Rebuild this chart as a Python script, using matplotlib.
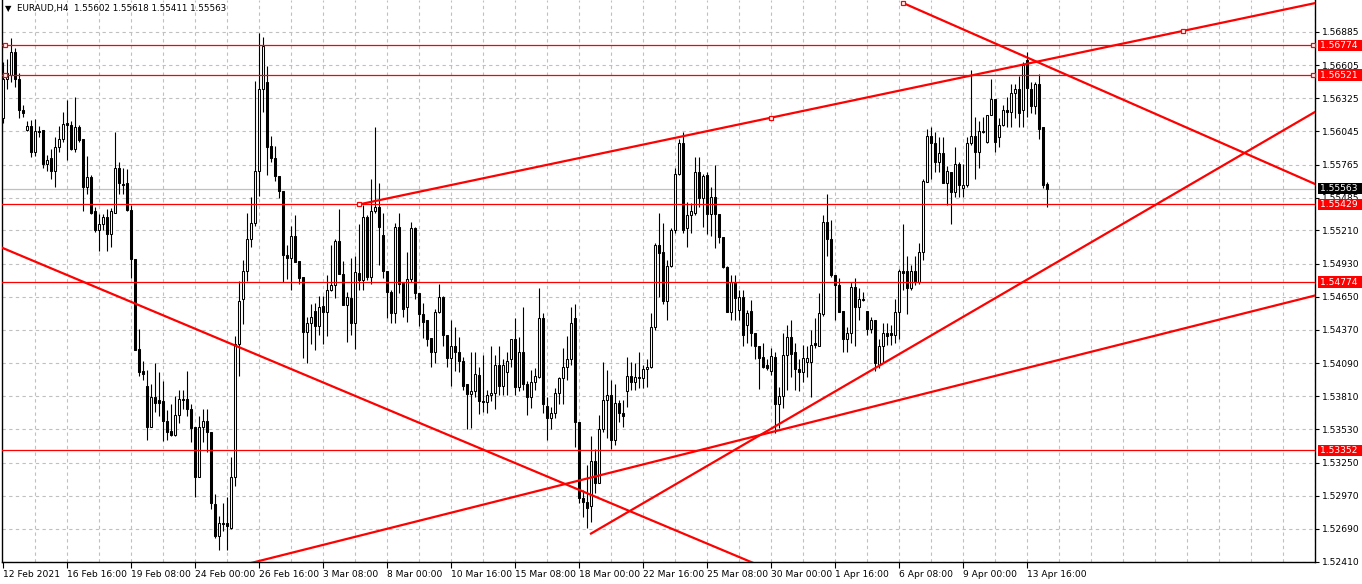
import numpy as np
import matplotlib.pyplot as plt
from matplotlib import transforms

# EURAUD H4 candles, 12 Feb 2021 00:00 -> 14 Apr 2021 12:00
opens = [1.5616, 1.5649, 1.5652, 1.5672, 1.5649, 1.5623, 1.5606, 1.5609, 1.5587, 1.5605,
         1.5606, 1.5577, 1.5582, 1.5571, 1.5591, 1.5598, 1.5612, 1.5610, 1.5590, 1.5608,
         1.5598, 1.5558, 1.5566, 1.5537, 1.5521, 1.5526, 1.5532, 1.5518, 1.5536, 1.5574,
         1.5560, 1.5561, 1.5538, 1.5497, 1.5421, 1.5402, 1.5390, 1.5355, 1.5380, 1.5378,
         1.5377, 1.5360, 1.5352, 1.5348, 1.5365, 1.5379, 1.5379, 1.5370, 1.5355, 1.5313,
         1.5355, 1.5360, 1.5351, 1.5290, 1.5263, 1.5274, 1.5274, 1.5270, 1.5313, 1.5425,
         1.5463, 1.5487, 1.5514, 1.5527, 1.5571, 1.5640, 1.5646, 1.5592, 1.5582, 1.5567,
         1.5554, 1.5500, 1.5498, 1.5516, 1.5495, 1.5482, 1.5435, 1.5443, 1.5453, 1.5440,
         1.5457, 1.5452, 1.5471, 1.5475, 1.5512, 1.5484, 1.5458, 1.5464, 1.5443, 1.5485,
         1.5479, 1.5532, 1.5482, 1.5537, 1.5541, 1.5517, 1.5487, 1.5469, 1.5451, 1.5524,
         1.5477, 1.5456, 1.5480, 1.5523, 1.5468, 1.5450, 1.5445, 1.5430, 1.5418, 1.5452,
         1.5465, 1.5433, 1.5413, 1.5423, 1.5418, 1.5411, 1.5391, 1.5383, 1.5385, 1.5399,
         1.5377, 1.5376, 1.5382, 1.5384, 1.5407, 1.5390, 1.5401, 1.5412, 1.5429, 1.5389,
         1.5418, 1.5391, 1.5380, 1.5393, 1.5397, 1.5447, 1.5373, 1.5363, 1.5367, 1.5384,
         1.5396, 1.5406, 1.5412, 1.5447, 1.5359, 1.5295, 1.5292, 1.5288, 1.5326, 1.5308,
         1.5353, 1.5378, 1.5382, 1.5344, 1.5375, 1.5367, 1.5385, 1.5398, 1.5393, 1.5397,
         1.5396, 1.5404, 1.5406, 1.5439, 1.5509, 1.5503, 1.5461, 1.5491, 1.5521, 1.5569,
         1.5595, 1.5523, 1.5534, 1.5536, 1.5570, 1.5548, 1.5568, 1.5535, 1.5549, 1.5535,
         1.5515, 1.5490, 1.5452, 1.5477, 1.5454, 1.5465, 1.5441, 1.5453, 1.5434, 1.5423,
         1.5414, 1.5407, 1.5402, 1.5414, 1.5374, 1.5381, 1.5416, 1.5431, 1.5418, 1.5404,
         1.5401, 1.5410, 1.5410, 1.5426, 1.5423, 1.5450, 1.5528, 1.5514, 1.5483, 1.5475,
         1.5453, 1.5429, 1.5434, 1.5473, 1.5456, 1.5463, 1.5453, 1.5438, 1.5445, 1.5407,
         1.5423, 1.5434, 1.5434, 1.5433, 1.5452, 1.5487, 1.5487, 1.5472, 1.5487, 1.5477,
         1.5503, 1.5562, 1.5601, 1.5595, 1.5579, 1.5586, 1.5561, 1.5570, 1.5553, 1.5577,
         1.5557, 1.5559, 1.5595, 1.5601, 1.5587, 1.5604, 1.5596, 1.5618, 1.5632, 1.5600,
         1.5610, 1.5623, 1.5621, 1.5637, 1.5640, 1.5623, 1.5665, 1.5640, 1.5626, 1.5645,
         1.5608, 1.55602]
highs = [1.5663, 1.5666, 1.5683, 1.5675, 1.5654, 1.5627, 1.5613, 1.5614, 1.5615, 1.5609,
         1.5606, 1.5585, 1.5590, 1.5600, 1.5609, 1.5621, 1.5631, 1.5613, 1.5634, 1.5610,
         1.5598, 1.5584, 1.5568, 1.5541, 1.5535, 1.5535, 1.5539, 1.5540, 1.5604, 1.5579,
         1.5574, 1.5573, 1.5542, 1.5497, 1.5438, 1.5411, 1.5403, 1.5391, 1.5409, 1.5401,
         1.5394, 1.5369, 1.5374, 1.5381, 1.5386, 1.5386, 1.5402, 1.5374, 1.5355, 1.5364,
         1.5370, 1.5370, 1.5351, 1.5298, 1.5280, 1.5291, 1.5296, 1.5330, 1.5432, 1.5478,
         1.5496, 1.5536, 1.5549, 1.5647, 1.5688, 1.5684, 1.5660, 1.5601, 1.5592, 1.5567,
         1.5554, 1.5509, 1.5525, 1.5534, 1.5495, 1.5482, 1.5448, 1.5459, 1.5460, 1.5466,
         1.5466, 1.5483, 1.5509, 1.5514, 1.5539, 1.5495, 1.5469, 1.5498, 1.5499, 1.5526,
         1.5542, 1.5534, 1.5564, 1.5608, 1.5561, 1.5536, 1.5487, 1.5471, 1.5527, 1.5536,
         1.5477, 1.5503, 1.5528, 1.5524, 1.5468, 1.5460, 1.5445, 1.5430, 1.5455, 1.5476,
         1.5466, 1.5433, 1.5445, 1.5439, 1.5431, 1.5414, 1.5391, 1.5418, 1.5418, 1.5406,
         1.5416, 1.5386, 1.5423, 1.5416, 1.5423, 1.5412, 1.5418, 1.5429, 1.5447, 1.5431,
         1.5456, 1.5394, 1.5403, 1.5405, 1.5472, 1.5451, 1.5380, 1.5372, 1.5388, 1.5397,
         1.5422, 1.5432, 1.5456, 1.5459, 1.5359, 1.5302, 1.5323, 1.5347, 1.5336, 1.5365,
         1.5410, 1.5403, 1.5395, 1.5391, 1.5378, 1.5378, 1.5414, 1.5410, 1.5409, 1.5418,
         1.5407, 1.5412, 1.5451, 1.5510, 1.5536, 1.5527, 1.5496, 1.5523, 1.5574, 1.5598,
         1.5604, 1.5545, 1.5544, 1.5583, 1.5583, 1.5569, 1.5570, 1.5558, 1.5576, 1.5535,
         1.5515, 1.5491, 1.5483, 1.5483, 1.5471, 1.5471, 1.5454, 1.5462, 1.5434, 1.5423,
         1.5426, 1.5412, 1.5422, 1.5418, 1.5389, 1.5434, 1.5441, 1.5445, 1.5426, 1.5412,
         1.5424, 1.5423, 1.5437, 1.5447, 1.5468, 1.5534, 1.5552, 1.5530, 1.5483, 1.5481,
         1.5453, 1.5439, 1.5477, 1.5481, 1.5472, 1.5469, 1.5453, 1.5448, 1.5445, 1.5429,
         1.5443, 1.5443, 1.5441, 1.5463, 1.5488, 1.5526, 1.5499, 1.5492, 1.5499, 1.5510,
         1.5564, 1.5607, 1.5608, 1.5604, 1.5600, 1.5600, 1.5575, 1.5570, 1.5591, 1.5579,
         1.5577, 1.5600, 1.5656, 1.5617, 1.5613, 1.5617, 1.5618, 1.5649, 1.5632, 1.5616,
         1.5627, 1.5634, 1.5645, 1.5645, 1.5651, 1.5663, 1.5672, 1.5646, 1.5646, 1.5653,
         1.5608, 1.55618]
lows = [1.5612, 1.5640, 1.5646, 1.5642, 1.5616, 1.5617, 1.5605, 1.5583, 1.5584, 1.5600,
        1.5574, 1.5571, 1.5564, 1.5558, 1.5587, 1.5596, 1.5580, 1.5589, 1.5587, 1.5596,
        1.5537, 1.5552, 1.5535, 1.5520, 1.5504, 1.5521, 1.5504, 1.5507, 1.5536, 1.5552,
        1.5552, 1.5537, 1.5481, 1.5420, 1.5398, 1.5395, 1.5344, 1.5355, 1.5368, 1.5364,
        1.5343, 1.5344, 1.5347, 1.5347, 1.5358, 1.5370, 1.5364, 1.5342, 1.5296, 1.5313,
        1.5342, 1.5334, 1.5286, 1.5261, 1.5251, 1.5267, 1.5251, 1.5269, 1.5305, 1.5398,
        1.5442, 1.5478, 1.5507, 1.5525, 1.5550, 1.5621, 1.5568, 1.5579, 1.5563, 1.5548,
        1.5477, 1.5480, 1.5471, 1.5494, 1.5476, 1.5413, 1.5409, 1.5425, 1.5420, 1.5433,
        1.5425, 1.5432, 1.5470, 1.5464, 1.5484, 1.5458, 1.5427, 1.5433, 1.5421, 1.5471,
        1.5471, 1.5479, 1.5476, 1.5536, 1.5492, 1.5481, 1.5447, 1.5443, 1.5443, 1.5468,
        1.5448, 1.5444, 1.5477, 1.5463, 1.5440, 1.5430, 1.5423, 1.5406, 1.5409, 1.5451,
        1.5423, 1.5406, 1.5390, 1.5402, 1.5401, 1.5386, 1.5353, 1.5354, 1.5380, 1.5366,
        1.5368, 1.5367, 1.5377, 1.5370, 1.5382, 1.5382, 1.5382, 1.5406, 1.5382, 1.5385,
        1.5386, 1.5365, 1.5371, 1.5386, 1.5396, 1.5367, 1.5344, 1.5353, 1.5363, 1.5374,
        1.5374, 1.5395, 1.5407, 1.5338, 1.5291, 1.5279, 1.5270, 1.5275, 1.5299, 1.5308,
        1.5351, 1.5346, 1.5336, 1.5340, 1.5359, 1.5355, 1.5372, 1.5386, 1.5386, 1.5388,
        1.5388, 1.5389, 1.5405, 1.5437, 1.5465, 1.5459, 1.5445, 1.5490, 1.5519, 1.5568,
        1.5519, 1.5507, 1.5519, 1.5534, 1.5541, 1.5524, 1.5518, 1.5516, 1.5506, 1.5510,
        1.5489, 1.5452, 1.5445, 1.5445, 1.5445, 1.5423, 1.5426, 1.5423, 1.5412, 1.5387,
        1.5405, 1.5403, 1.5399, 1.5350, 1.5354, 1.5371, 1.5386, 1.5397, 1.5386, 1.5385,
        1.5393, 1.5397, 1.5380, 1.5422, 1.5423, 1.5449, 1.5499, 1.5482, 1.5445, 1.5452,
        1.5418, 1.5418, 1.5426, 1.5423, 1.5445, 1.5461, 1.5433, 1.5434, 1.5402, 1.5405,
        1.5409, 1.5424, 1.5424, 1.5426, 1.5429, 1.5471, 1.5450, 1.5471, 1.5475, 1.5476,
        1.5496, 1.5562, 1.5564, 1.5570, 1.5570, 1.5561, 1.5542, 1.5526, 1.5549, 1.5549,
        1.5549, 1.5558, 1.5593, 1.5564, 1.5574, 1.5603, 1.5595, 1.5618, 1.5587, 1.5591,
        1.5609, 1.5608, 1.5608, 1.5616, 1.5608, 1.5608, 1.5617, 1.5620, 1.5619, 1.5598,
        1.5557, 1.55411]
closes = [1.5649, 1.5654, 1.5672, 1.5649, 1.5623, 1.5620, 1.5609, 1.5587, 1.5605, 1.5604,
          1.5577, 1.5580, 1.5571, 1.5591, 1.5598, 1.5611, 1.5610, 1.5590, 1.5608, 1.5597,
          1.5558, 1.5566, 1.5536, 1.5521, 1.5526, 1.5532, 1.5518, 1.5537, 1.5574, 1.5561,
          1.5559, 1.5538, 1.5497, 1.5420, 1.5401, 1.5400, 1.5355, 1.5380, 1.5375, 1.5375,
          1.5360, 1.5351, 1.5348, 1.5365, 1.5379, 1.5378, 1.5370, 1.5354, 1.5313, 1.5355,
          1.5360, 1.5351, 1.5291, 1.5263, 1.5274, 1.5273, 1.5271, 1.5313, 1.5425, 1.5461,
          1.5487, 1.5514, 1.5527, 1.5571, 1.5640, 1.5677, 1.5591, 1.5582, 1.5567, 1.5554,
          1.5500, 1.5498, 1.5516, 1.5494, 1.5481, 1.5435, 1.5443, 1.5448, 1.5440, 1.5456,
          1.5452, 1.5471, 1.5475, 1.5512, 1.5484, 1.5458, 1.5465, 1.5443, 1.5486, 1.5479,
          1.5532, 1.5482, 1.5537, 1.5541, 1.5524, 1.5487, 1.5469, 1.5451, 1.5524, 1.5476,
          1.5455, 1.5480, 1.5523, 1.5468, 1.5450, 1.5444, 1.5429, 1.5418, 1.5452, 1.5465,
          1.5433, 1.5413, 1.5423, 1.5418, 1.5411, 1.5390, 1.5383, 1.5385, 1.5400, 1.5377,
          1.5376, 1.5382, 1.5384, 1.5407, 1.5390, 1.5407, 1.5411, 1.5429, 1.5389, 1.5418,
          1.5391, 1.5380, 1.5393, 1.5398, 1.5447, 1.5374, 1.5363, 1.5367, 1.5384, 1.5396,
          1.5406, 1.5412, 1.5443, 1.5359, 1.5295, 1.5292, 1.5287, 1.5326, 1.5308, 1.5353,
          1.5378, 1.5382, 1.5344, 1.5375, 1.5367, 1.5364, 1.5398, 1.5393, 1.5397, 1.5396,
          1.5404, 1.5406, 1.5439, 1.5509, 1.5502, 1.5461, 1.5491, 1.5521, 1.5569, 1.5595,
          1.5521, 1.5534, 1.5537, 1.5570, 1.5548, 1.5567, 1.5535, 1.5549, 1.5535, 1.5515,
          1.5490, 1.5452, 1.5477, 1.5464, 1.5465, 1.5433, 1.5451, 1.5434, 1.5423, 1.5413,
          1.5406, 1.5405, 1.5415, 1.5374, 1.5381, 1.5416, 1.5431, 1.5417, 1.5404, 1.5401,
          1.5413, 1.5413, 1.5424, 1.5424, 1.5451, 1.5528, 1.5514, 1.5483, 1.5475, 1.5452,
          1.5429, 1.5434, 1.5473, 1.5456, 1.5463, 1.5462, 1.5438, 1.5445, 1.5409, 1.5423,
          1.5434, 1.5432, 1.5433, 1.5452, 1.5487, 1.5485, 1.5472, 1.5487, 1.5477, 1.5503,
          1.5563, 1.5601, 1.5595, 1.5579, 1.5586, 1.5561, 1.5571, 1.5553, 1.5577, 1.5559,
          1.5559, 1.5595, 1.5601, 1.5587, 1.5605, 1.5605, 1.5618, 1.5632, 1.5596, 1.5610,
          1.5623, 1.5621, 1.5637, 1.5640, 1.5620, 1.5661, 1.5641, 1.5626, 1.5645, 1.5607,
          1.5559, 1.55563]

date_labels = ["12 Feb 2021", "16 Feb 16:00", "19 Feb 08:00", "24 Feb 00:00", "26 Feb 16:00",
               "3 Mar 08:00", "8 Mar 00:00", "10 Mar 16:00", "15 Mar 08:00", "18 Mar 00:00",
               "22 Mar 16:00", "25 Mar 08:00", "30 Mar 00:00", "1 Apr 16:00", "6 Apr 08:00",
               "9 Apr 00:00", "13 Apr 16:00"]
price_ticks = [1.52410, 1.52690, 1.52970, 1.53250, 1.53530, 1.53810, 1.54090, 1.54370,
               1.54650, 1.54930, 1.55210, 1.55485, 1.55765, 1.56045, 1.56325, 1.56605, 1.56885]

# horizontal levels, the first two are selected (end squares)
levels = [1.56774, 1.56521, 1.55429, 1.54774, 1.53352]
bid = 1.55563

# trend lines: anchor bars / anchor prices, ray = only to the right of first anchor
trend_x = [[89, 295], [225, 256], [0, 187], [63, 328], [147, 328]]
trend_y = [[1.55429, 1.56894], [1.5713, 1.5667], [1.5506, 1.5241], [1.5241, 1.5466], [1.5265, 1.5621]]
trend_ray = [True, True, False, False, True]

W, H = 1362, 584
fs = 6.6
RED = '#ff0000'

fig = plt.figure(figsize=(W / 100, H / 100), dpi=100)
ax = fig.add_axes([2 / W, 22 / H, 1313 / W, 562 / H])
ax.set_xlim(-0.25, 328)
ax.set_ylim(1.52410, 1.57155)

# grid
ax.set_yticks(price_ticks)
ax.set_yticklabels([f'{v:.5f}' for v in price_ticks])
ax.yaxis.tick_right()
ax.set_xticks(np.arange(0, 16 * len(date_labels), 16))
ax.set_xticklabels(date_labels, ha='left')
shift = transforms.ScaledTranslation(2 / 100, 0, fig.dpi_scale_trans)
for lab in ax.get_xticklabels():
    lab.set_transform(lab.get_transform() + shift)
ax.xaxis.remove_overlapping_locs = False
ax.set_xticks(np.arange(8, 329, 8), minor=True)
ax.grid(axis='y', which='major', color='#c0c0c0', ls=(0, (3, 3)), lw=0.8, zorder=0)
ax.grid(axis='x', which='minor', color='#c0c0c0', ls=(0, (3, 3)), lw=0.8, zorder=0)
ax.tick_params(axis='x', which='minor', length=0)
ax.tick_params(axis='x', which='major', length=4, pad=2, labelsize=fs, width=0.8)
ax.tick_params(axis='y', length=3, pad=2, labelsize=fs, width=0.8)
ax.set_axisbelow(True)
ax.spines['top'].set_visible(False)
for s in ['left', 'right', 'bottom']:
    ax.spines[s].set_linewidth(1.0)

# bid line + levels
ax.axhline(bid, color='#c0c0c0', lw=0.9, zorder=1)
for v in levels:
    ax.axhline(v, color=RED, lw=0.9, zorder=5)
for v in levels[:2]:
    ax.plot([0.6, 327.4], [v, v], 's', ms=3.5, mfc='white', mec=RED, mew=0.9, zorder=6, clip_on=False)

# candles
x = np.arange(len(closes))
o = np.array(opens)
c = np.array(closes)
ax.vlines(x, lows, highs, color='black', lw=0.8, zorder=3)
up = c >= o
body = np.maximum(np.abs(c - o), 0.00002)
bot = np.minimum(o, c)
ax.bar(x[up], body[up], bottom=bot[up], width=0.5, color='white', edgecolor='black', lw=0.75, zorder=4)
ax.bar(x[~up], body[~up], bottom=bot[~up], width=0.5, color='black', edgecolor='black', lw=0.75, zorder=4)

# trend lines
for tx, ty, ray in zip(trend_x, trend_y, trend_ray):
    k = (ty[1] - ty[0]) / (tx[1] - tx[0])
    x0 = tx[0] if ray else -5
    x1 = 340
    ax.plot([x0, x1], [ty[0] + k * (x0 - tx[0]), ty[0] + k * (x1 - tx[0])], color=RED, lw=1.6, zorder=5)
# selected anchors
mx = [trend_x[0][0], (trend_x[0][0] + trend_x[0][1]) / 2, trend_x[0][1]]
my = [trend_y[0][0], (trend_y[0][0] + trend_y[0][1]) / 2, trend_y[0][1]]
ax.plot(mx, my, 's', ms=3.5, mfc='white', mec=RED, mew=0.9, zorder=6)
ax.plot([trend_x[1][0]], [trend_y[1][0]], 's', ms=3.5, mfc='white', mec=RED, mew=0.9, zorder=6)

# price boxes on the right scale
tr = transforms.blended_transform_factory(ax.transAxes, ax.transData)
for v in levels:
    ax.text(1.0035, v, f'{v:.5f}  ', transform=tr, color='white', fontsize=fs, va='center', ha='left',
            bbox=dict(boxstyle='square,pad=0.12', fc=RED, ec='none'), zorder=10, clip_on=False)
ax.text(1.0035, bid, f'{bid:.5f}  ', transform=tr, color='white', fontsize=fs, va='center', ha='left',
        bbox=dict(boxstyle='square,pad=0.12', fc='black', ec='none'), zorder=10, clip_on=False)

# header
fig.text(8 / W, 1 - 9 / H, '\u25bc', fontsize=6, ha='center', va='center')
fig.text(17 / W, 1 - 9 / H,
         f'EURAUD,H4  {opens[-1]:.5f} {highs[-1]:.5f} {lows[-1]:.5f} {closes[-1]:.5f}',
         fontsize=6.3, va='center')

fig.savefig('out.png', dpi=100, facecolor='white')
